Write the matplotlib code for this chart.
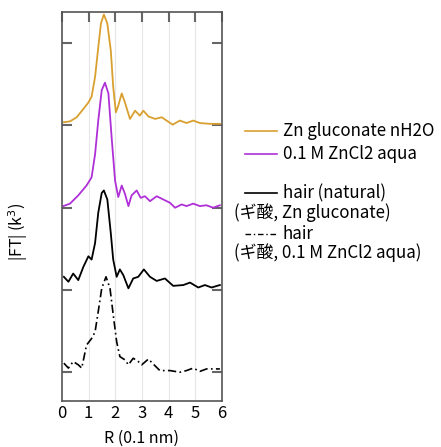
import numpy as np
import matplotlib
matplotlib.use('Agg')
import matplotlib.pyplot as plt
from matplotlib.lines import Line2D

plt.rcParams['font.family'] = ['Noto Sans CJK JP', 'DejaVu Sans']

# Zn gluconate nH2O (offset 3)
r_glu = [0.07, 0.30, 0.55, 0.80, 0.99, 1.11, 1.24, 1.36, 1.46, 1.57, 1.70, 1.83, 1.92, 2.02, 2.11,
         2.24, 2.36, 2.55, 2.74, 2.92, 3.05, 3.24, 3.49, 3.74, 3.92, 4.15, 4.42, 4.67, 4.92, 5.17,
         5.55, 5.92]
ft_glu = [3.04, 3.05, 3.10, 3.20, 3.28, 3.35, 3.59, 3.95, 4.24, 4.35, 4.24, 3.91, 3.47, 3.16, 3.24,
          3.39, 3.28, 3.08, 3.18, 3.12, 3.18, 3.11, 3.08, 3.10, 3.06, 3.01, 3.06, 3.03, 3.06, 3.03,
          3.02, 3.02]

# 0.1 M ZnCl2 aqua (offset 2)
r_zncl = [0.05, 0.30, 0.61, 0.92, 1.11, 1.24, 1.36, 1.49, 1.61, 1.74, 1.86, 1.99, 2.11, 2.24, 2.36,
          2.49, 2.61, 2.80, 2.95, 3.11, 3.30, 3.55, 3.80, 4.05, 4.24, 4.49, 4.67, 4.92, 5.17, 5.42,
          5.67, 5.92]
ft_zncl = [2.02, 2.05, 2.15, 2.27, 2.37, 2.65, 3.06, 3.43, 3.52, 3.39, 2.86, 2.33, 2.13, 2.27, 2.17,
           2.02, 2.15, 2.21, 2.12, 2.14, 2.08, 2.14, 2.10, 2.06, 2.00, 2.04, 2.02, 2.05, 2.02, 2.03,
           2.00, 2.03]

# hair (natural) (offset 1)
r_hair = [0.07, 0.24, 0.42, 0.61, 0.80, 0.99, 1.11, 1.24, 1.36, 1.49, 1.57, 1.70, 1.83, 1.92, 2.05,
          2.17, 2.30, 2.49, 2.67, 2.86, 3.07, 3.30, 3.55, 3.86, 4.17, 4.55, 4.80, 5.11, 5.36, 5.61,
          5.92]
ft_hair = [1.16, 1.10, 1.20, 1.12, 1.28, 1.41, 1.37, 1.57, 1.94, 2.18, 2.21, 2.10, 1.69, 1.37, 1.16,
           1.25, 1.18, 1.02, 1.14, 1.16, 1.25, 1.16, 1.11, 1.14, 1.05, 1.06, 1.09, 1.03, 1.06, 1.03,
           1.06]

# hair (ZnCl2) (offset 0)
r_hair2 = [0.07, 0.24, 0.42, 0.61, 0.74, 0.92, 1.11, 1.24, 1.36, 1.49, 1.65, 1.80, 1.92, 2.05, 2.17,
           2.36, 2.49, 2.67, 2.86, 2.99, 3.24, 3.42, 3.67, 4.05, 4.42, 4.67, 4.92, 5.17, 5.42, 5.67,
           5.92]
ft_hair2 = [0.11, 0.05, 0.13, 0.09, 0.05, 0.33, 0.41, 0.49, 0.74, 1.02, 1.16, 1.02, 0.70, 0.37, 0.19,
            0.15, 0.09, 0.17, 0.13, 0.09, 0.16, 0.10, 0.02, 0.02, 0.00, 0.02, 0.05, 0.01, 0.04, 0.04,
            0.04]

c_gold = '#D9A030'
c_purple = '#B030D8'

fig = plt.figure(figsize=(4.41, 4.47), dpi=100)
ax = fig.add_axes([62 / 441, 1 - 401 / 447, 160 / 441, 389 / 447])

ax.plot(r_glu, ft_glu, color=c_gold, lw=1.3)
ax.plot(r_zncl, ft_zncl, color=c_purple, lw=1.3)
ax.plot(r_hair, ft_hair, color='black', lw=1.3)
ax.plot(r_hair2, ft_hair2, color='black', lw=1.2, ls=(0, (5, 2, 1, 2)))

ax.set_xlim(0, 6)
ax.set_ylim(-0.35, 4.38)
ax.set_xticks(range(7))
ax.set_yticks(range(5))
ax.set_yticklabels([])
for x in range(1, 6):
    ax.axvline(x, color='#e6e6e6', lw=0.8, zorder=0)
ax.tick_params(axis='y', direction='in', left=True, right=True, length=7, width=1.5, color='#666666')
ax.tick_params(axis='x', direction='in', top=True, bottom=False, length=7, width=1.5, color='#666666',
               labelsize=12, pad=3)
for s in ax.spines.values():
    s.set_color('#555555')
    s.set_linewidth(1.2)

fig.text(142 / 441, 1 - 438 / 447, 'R (0.1 nm)', ha='center', va='center', fontsize=11.5)
fig.text(18 / 441, 1 - 232 / 447, '|FT| (k$^3$)', rotation=90, ha='center', va='center', fontsize=11.5)

# legend drawn by hand
fs = 12.2
def fy(y):
    return 1 - y / 447

fig.add_artist(Line2D([245 / 441, 277 / 441], [fy(131), fy(131)], color=c_gold, lw=1.2))
fig.text(283 / 441, fy(131), 'Zn gluconate nH2O', va='center', fontsize=fs)
fig.add_artist(Line2D([245 / 441, 277 / 441], [fy(154), fy(154)], color=c_purple, lw=1.2))
fig.text(283 / 441, fy(154), '0.1 M ZnCl2 aqua', va='center', fontsize=fs)
fig.add_artist(Line2D([245 / 441, 277 / 441], [fy(193), fy(193)], color='black', lw=1.2))
fig.text(283 / 441, fy(193), 'hair (natural)', va='center', fontsize=fs)
fig.text(234 / 441, fy(213), '(ギ酸, Zn gluconate)', va='center', fontsize=fs)
fig.add_artist(Line2D([245 / 441, 277 / 441], [fy(234), fy(234)], color='black', lw=1.0,
                      ls=(0, (4, 2, 1, 2))))
fig.text(283 / 441, fy(234), 'hair', va='center', fontsize=fs)
fig.text(234 / 441, fy(253), '(ギ酸, 0.1 M ZnCl2 aqua)', va='center', fontsize=fs)

fig.savefig('out.png', dpi=100)
